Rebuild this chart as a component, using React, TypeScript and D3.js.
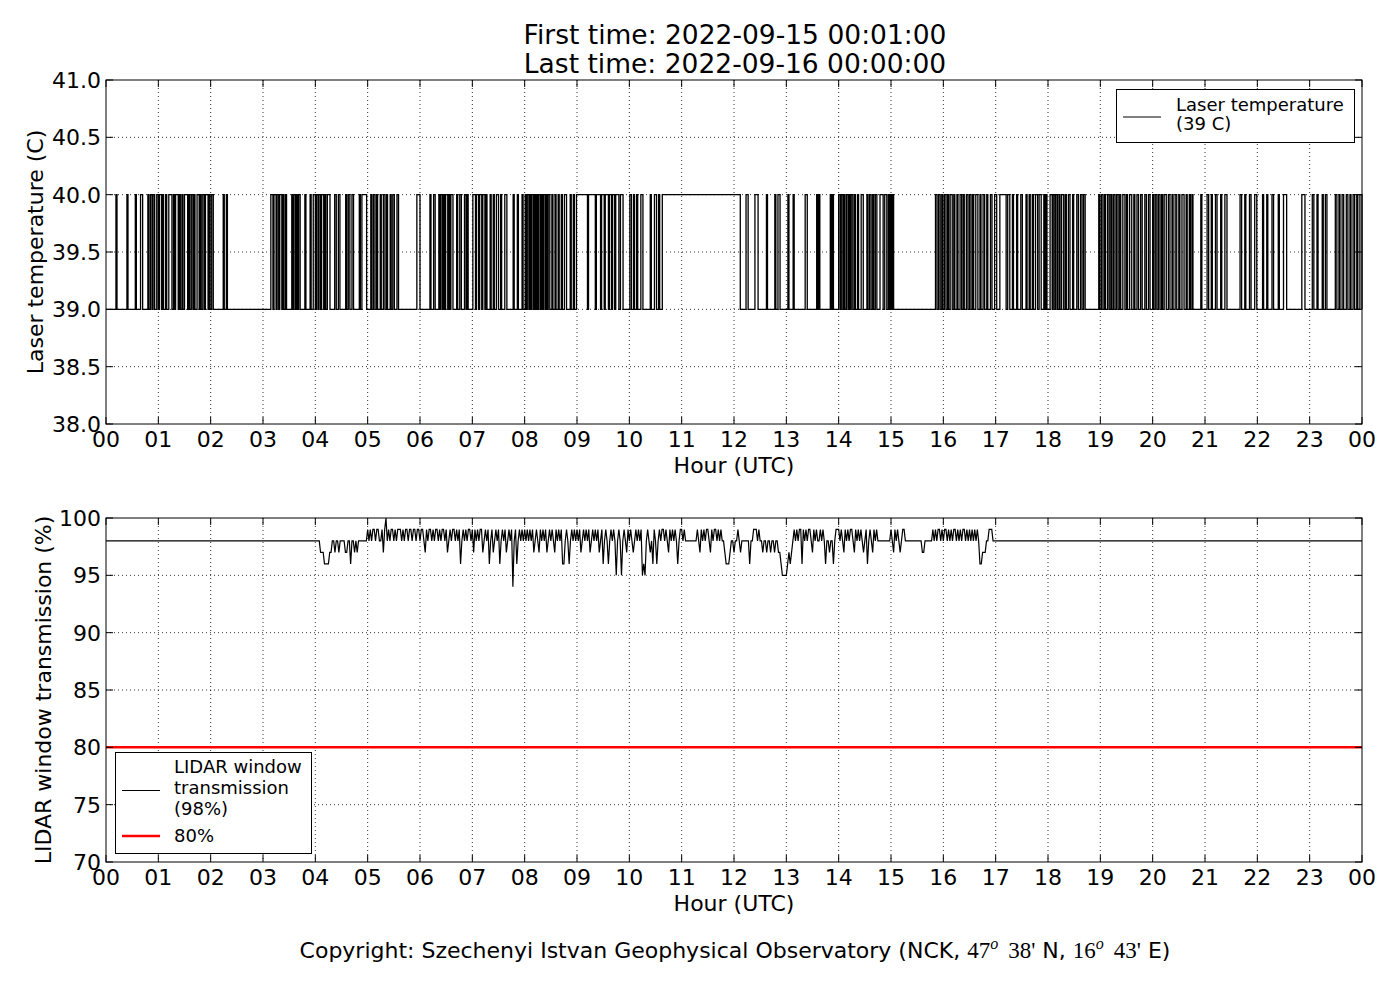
import React from "react";
import * as d3 from "d3";

// ---------- DATA ----------
const HOUR_TICKS = d3.range(0, 25);
const HOUR_LABELS = HOUR_TICKS.map((h) => String(h % 24).padStart(2, "0"));
const TEMP_TICKS = [38.0, 38.5, 39.0, 39.5, 40.0, 40.5, 41.0];
const TRANS_TICKS = [70, 75, 80, 85, 90, 95, 100];

const TEMP_LOW = 39;
const TEMP_HIGH = 40;
// intervals (hours UTC) where the laser temperature reads 40 C (otherwise 39 C)
const TEMP_HIGH_INTERVALS: [number, number][] = [
  [0.19, 0.21], [0.40, 0.42], [0.56, 0.58], [0.66, 0.70],
  [0.80, 0.82], [0.85, 0.88], [0.90, 0.93], [0.97, 1.00], [1.02, 1.06], [1.08, 1.10], [1.14, 1.16], [1.20, 1.26],
  [1.29, 1.31], [1.33, 1.38], [1.40, 1.42], [1.45, 1.47], [1.50, 1.56], [1.58, 1.60], [1.63, 1.66], [1.68, 1.70],
  [1.74, 1.78], [1.80, 1.82], [1.85, 1.88], [1.90, 1.95], [1.97, 1.99], [2.02, 2.05], [2.24, 2.26], [2.30, 2.32],
  [3.15, 3.19], [3.21, 3.25], [3.27, 3.30], [3.32, 3.36], [3.38, 3.40], [3.43, 3.45], [3.55, 3.57], [3.59, 3.62],
  [3.64, 3.66], [3.68, 3.71], [3.80, 3.82], [3.90, 3.92], [3.96, 4.00], [4.02, 4.05], [4.07, 4.10], [4.12, 4.16],
  [4.18, 4.20], [4.23, 4.28], [4.37, 4.40], [4.44, 4.47], [4.58, 4.60], [4.63, 4.66], [4.70, 4.73], [4.84, 4.86],
  [4.89, 4.98], [5.06, 5.08], [5.11, 5.14], [5.17, 5.19], [5.24, 5.26], [5.30, 5.33], [5.36, 5.38], [5.43, 5.45],
  [5.48, 5.51], [5.56, 5.59],
  [5.94, 6.00], [6.19, 6.21], [6.26, 6.29], [6.36, 6.38], [6.40, 6.43], [6.45, 6.47], [6.49, 6.53], [6.55, 6.57],
  [6.59, 6.63], [6.70, 6.72], [6.76, 6.79], [6.85, 6.88], [6.90, 6.92], [7.01, 7.06], [7.08, 7.12], [7.14, 7.18],
  [7.20, 7.24], [7.26, 7.28], [7.34, 7.36], [7.40, 7.42], [7.46, 7.50], [7.54, 7.56], [7.62, 7.66], [7.78, 7.80],
  [7.86, 7.88], [7.95, 7.97],
  [8.01, 8.03], [8.05, 8.08], [8.10, 8.12], [8.14, 8.17], [8.19, 8.21], [8.23, 8.25], [8.27, 8.30], [8.32, 8.34],
  [8.36, 8.39], [8.41, 8.43], [8.45, 8.48], [8.52, 8.54], [8.58, 8.60], [8.64, 8.66], [8.70, 8.72], [8.76, 8.80],
  [8.87, 8.89], [8.93, 8.95],
  [8.99, 9.20], [9.22, 9.35], [9.37, 9.45], [9.47, 9.52], [9.54, 9.60], [9.62, 9.66], [9.68, 9.72], [9.74, 9.80],
  [9.83, 9.88], [10.01, 10.04], [10.08, 10.10], [10.14, 10.16], [10.22, 10.26], [10.40, 10.42], [10.48, 10.52],
  [10.56, 10.58], [10.63, 12.12],
  [12.23, 12.27], [12.40, 12.46], [12.62, 12.64], [12.78, 12.80], [12.84, 12.88], [13.03, 13.05], [13.13, 13.15],
  [13.36, 13.40], [13.58, 13.60], [13.62, 13.64], [13.84, 13.86], [13.88, 13.90],
  [14.00, 14.03], [14.05, 14.08], [14.10, 14.12], [14.15, 14.18], [14.20, 14.22], [14.24, 14.27], [14.30, 14.32],
  [14.36, 14.38], [14.43, 14.47], [14.54, 14.56], [14.59, 14.62], [14.65, 14.67], [14.70, 14.73], [14.79, 14.85],
  [14.88, 14.92], [14.95, 14.97], [14.99, 15.01], [15.03, 15.05],
  [15.85, 15.88], [15.91, 15.94], [15.97, 15.99], [16.02, 16.05], [16.08, 16.10], [16.13, 16.17], [16.20, 16.22],
  [16.26, 16.28], [16.32, 16.35], [16.38, 16.40], [16.44, 16.47], [16.50, 16.53], [16.56, 16.58], [16.62, 16.66],
  [16.70, 16.72], [16.76, 16.79], [16.83, 16.85], [16.90, 16.93], [16.98, 17.02],
  [17.08, 17.20], [17.23, 17.27], [17.32, 17.34], [17.40, 17.42], [17.48, 17.51], [17.58, 17.60], [17.64, 17.66],
  [17.70, 17.72], [17.76, 17.80], [17.83, 17.87], [17.92, 17.94], [17.96, 17.98],
  [18.04, 18.08], [18.10, 18.13], [18.15, 18.18], [18.21, 18.23], [18.26, 18.30], [18.33, 18.35], [18.39, 18.42],
  [18.47, 18.49], [18.55, 18.58], [18.62, 18.65], [18.68, 18.71], [18.97, 18.99],
  [19.02, 19.05], [19.08, 19.10], [19.14, 19.17], [19.20, 19.22], [19.25, 19.28], [19.31, 19.34], [19.37, 19.39],
  [19.43, 19.47], [19.50, 19.52], [19.56, 19.60], [19.64, 19.66], [19.70, 19.73], [19.77, 19.80], [19.85, 19.88],
  [19.92, 19.95],
  [20.00, 20.02], [20.05, 20.08], [20.11, 20.14], [20.17, 20.19], [20.22, 20.26], [20.30, 20.33], [20.37, 20.39],
  [20.43, 20.46], [20.50, 20.52], [20.56, 20.60], [20.64, 20.66], [20.70, 20.72], [20.75, 20.77],
  [20.92, 20.94], [21.04, 21.07], [21.12, 21.14], [21.20, 21.23], [21.30, 21.32], [21.38, 21.42], [21.67, 21.70],
  [21.76, 21.78], [21.85, 21.88], [21.95, 21.99], [22.10, 22.12], [22.18, 22.20], [22.28, 22.31], [22.40, 22.42],
  [22.50, 22.56], [22.85, 22.91], [23.05, 23.08], [23.14, 23.16], [23.24, 23.26], [23.30, 23.33],
  [23.49, 23.52], [23.56, 23.58], [23.62, 23.65], [23.70, 23.73], [23.77, 23.79], [23.83, 23.86], [23.90, 23.92],
  [23.96, 24.0],
];

// LIDAR window transmission: constant 98 % outside 04:00–17:05, sampled every 1.5 minutes inside
const TRANS_BASE = 98;
const TRANS_START = 4.0;
const TRANS_STEP = 0.025;
const TRANS_VALUES: number[] = [
  // 04
  98, 98, 98, 98, 97, 97, 97, 96, 96, 96, 96, 97, 97, 98, 98, 97, 98, 98, 97, 98,
  98, 98, 98, 97, 97, 98, 98, 96, 98, 98, 97, 98, 97, 98, 98, 98, 98, 98, 98, 98,
  // 05
  99, 98, 99, 98, 99, 99, 98, 99, 99, 98, 98, 99, 97, 99, 100, 98, 99, 98, 99, 99,
  98, 99, 98, 99, 99, 99, 98, 99, 98, 99, 99, 98, 99, 99, 98, 99, 99, 98, 99, 99,
  // 06
  98, 99, 99, 98, 97, 99, 98, 99, 99, 98, 99, 98, 99, 99, 98, 99, 98, 99, 99, 98,
  99, 97, 98, 99, 98, 99, 99, 98, 99, 98, 99, 96, 98, 99, 98, 99, 98, 99, 99, 98,
  // 07
  99, 97, 99, 98, 99, 98, 99, 99, 97, 98, 99, 98, 99, 96, 98, 99, 97, 98, 99, 98,
  99, 96, 98, 99, 98, 99, 97, 98, 99, 98, 99, 94, 98, 99, 96, 98, 99, 98, 99, 98,
  // 08
  99, 98, 99, 98, 99, 98, 99, 97, 98, 99, 98, 97, 99, 98, 99, 98, 99, 97, 98, 99,
  98, 99, 98, 97, 99, 98, 99, 98, 99, 96, 96, 98, 99, 98, 96, 98, 99, 98, 99, 98,
  // 09
  99, 98, 99, 97, 98, 99, 98, 99, 98, 99, 97, 98, 99, 98, 99, 98, 99, 97, 98, 99,
  96, 98, 99, 98, 96, 98, 99, 98, 99, 98, 95, 98, 99, 98, 95, 98, 99, 98, 97, 99,
  // 10
  98, 99, 98, 97, 98, 99, 98, 99, 98, 99, 95, 96, 95, 98, 99, 98, 97, 98, 96, 99,
  98, 96, 98, 99, 98, 99, 99, 98, 99, 98, 97, 99, 98, 99, 98, 99, 98, 96, 98, 99,
  // 11
  99, 98, 99, 98, 98, 98, 98, 98, 98, 98, 98, 98, 99, 98, 97, 99, 98, 99, 98, 99,
  99, 98, 97, 99, 98, 99, 99, 98, 99, 98, 99, 98, 98, 97, 96, 96, 96, 97, 98, 98,
  // 12
  97, 98, 98, 99, 98, 97, 98, 98, 98, 98, 98, 98, 96, 98, 98, 99, 99, 99, 98, 99,
  98, 98, 97, 98, 98, 97, 98, 98, 97, 98, 98, 97, 98, 98, 97, 97, 96, 95, 95, 95,
  // 13
  95, 96, 97, 96, 97, 98, 99, 98, 99, 98, 99, 99, 96, 99, 98, 99, 98, 99, 99, 98,
  97, 99, 98, 99, 98, 98, 99, 98, 99, 98, 96, 98, 98, 97, 98, 98, 96, 98, 99, 99,
  // 14
  99, 98, 99, 98, 97, 99, 98, 99, 98, 99, 99, 98, 97, 99, 98, 99, 98, 99, 98, 97,
  98, 99, 96, 98, 99, 98, 97, 99, 98, 99, 98, 98, 98, 98, 98, 98, 98, 98, 98, 98,
  // 15
  99, 98, 97, 99, 98, 99, 98, 97, 98, 99, 99, 98, 98, 98, 98, 98, 98, 98, 98, 98,
  98, 98, 98, 98, 97, 97, 98, 98, 98, 98, 98, 98, 99, 98, 99, 98, 99, 99, 98, 99,
  // 16
  98, 99, 99, 98, 99, 98, 99, 98, 99, 99, 98, 99, 98, 99, 98, 99, 99, 98, 99, 98,
  99, 98, 99, 98, 99, 98, 99, 98, 96, 96, 97, 97, 97, 98, 98, 99, 99, 99, 98, 98,
  // 17
  98, 98,
];
const THRESHOLD = 80;

const TITLE_1 = "First time: 2022-09-15 00:01:00";
const TITLE_2 = "Last time: 2022-09-16 00:00:00";

// ---------- LAYOUT ----------
const W = 1400;
const H = 1000;
const PL = 106;
const PR = 1362;
const TOP1 = 80;
const BOT1 = 424;
const TOP2 = 518;
const BOT2 = 862;
const FONT = "'DejaVu Sans', sans-serif";
const SERIF = "'Liberation Serif', 'DejaVu Serif', serif";
const TICK_LEN = 7;

const x = d3.scaleLinear().domain([0, 24]).range([PL, PR]);
const yT = d3.scaleLinear().domain([38, 41]).range([BOT1, TOP1]);
const yL = d3.scaleLinear().domain([70, 100]).range([BOT2, TOP2]);

function tempPoints(): [number, number][] {
  const pts: [number, number][] = [[0, TEMP_LOW]];
  for (const [s, e] of TEMP_HIGH_INTERVALS) {
    pts.push([s, TEMP_LOW], [s, TEMP_HIGH], [e, TEMP_HIGH], [e, TEMP_LOW]);
  }
  pts.push([24, TEMP_LOW]);
  return pts;
}

function transPoints(): [number, number][] {
  const pts: [number, number][] = [[0, TRANS_BASE]];
  TRANS_VALUES.forEach((v, i) => pts.push([TRANS_START + i * TRANS_STEP, v]));
  pts.push([24, TRANS_BASE]);
  return pts;
}

function Panel(props: {
  top: number;
  bottom: number;
  y: d3.ScaleLinear<number, number>;
  yTicks: number[];
  fmt: (v: number) => string;
  ylabel: string;
  ylabelX: number;
  children?: React.ReactNode;
}) {
  const { top, bottom, y, yTicks, fmt, ylabel, ylabelX } = props;
  const midY = (top + bottom) / 2;
  return (
    <g>
      <g stroke="#000" strokeWidth={0.8} strokeDasharray="1,3">
        {HOUR_TICKS.slice(1, -1).map((h) => (
          <line key={"gx" + h} x1={x(h)} x2={x(h)} y1={top} y2={bottom} />
        ))}
        {yTicks.slice(1, -1).map((v) => (
          <line key={"gy" + v} x1={PL} x2={PR} y1={y(v)} y2={y(v)} />
        ))}
      </g>
      {props.children}
      <g stroke="#000" strokeWidth={1}>
        {HOUR_TICKS.map((h) => (
          <g key={"tx" + h}>
            <line x1={x(h)} x2={x(h)} y1={bottom} y2={bottom - TICK_LEN} />
            <line x1={x(h)} x2={x(h)} y1={top} y2={top + TICK_LEN} />
          </g>
        ))}
        {yTicks.map((v) => (
          <g key={"ty" + v}>
            <line x1={PL} x2={PL + TICK_LEN} y1={y(v)} y2={y(v)} />
            <line x1={PR} x2={PR - TICK_LEN} y1={y(v)} y2={y(v)} />
          </g>
        ))}
      </g>
      <rect x={PL} y={top} width={PR - PL} height={bottom - top} fill="none" stroke="#000" strokeWidth={1} />
      <g fontFamily={FONT} fontSize={22} fill="#000">
        {HOUR_TICKS.map((h, i) => (
          <text key={"lx" + h} x={x(h)} y={bottom + 23} textAnchor="middle">
            {HOUR_LABELS[i]}
          </text>
        ))}
        {yTicks.map((v) => (
          <text key={"ly" + v} x={PL - 5} y={y(v) + 8} textAnchor="end">
            {fmt(v)}
          </text>
        ))}
        <text x={(PL + PR) / 2} y={bottom + 49} textAnchor="middle">
          Hour (UTC)
        </text>
        <text
          transform={`translate(${ylabelX},${midY}) rotate(-90)`}
          textAnchor="middle"
          dominantBaseline="central"
        >
          {ylabel}
        </text>
      </g>
    </g>
  );
}

export default function App() {
  const lineT = d3
    .line<[number, number]>()
    .x((d) => x(d[0]))
    .y((d) => yT(d[1]));
  const lineL = d3
    .line<[number, number]>()
    .x((d) => x(d[0]))
    .y((d) => yL(d[1]));

  return (
    <svg
      width={W}
      height={H}
      viewBox={`0 0 ${W} ${H}`}
      style={{ position: "absolute", left: 0, top: 0, background: "#fff" }}
    >
      <rect x={0} y={0} width={W} height={H} fill="#fff" />
      <g fontFamily={FONT} fontSize={26.5} fill="#000" textAnchor="middle">
        <text x={735} y={44}>{TITLE_1}</text>
        <text x={735} y={73}>{TITLE_2}</text>
      </g>

      <Panel
        top={TOP1}
        bottom={BOT1}
        y={yT}
        yTicks={TEMP_TICKS}
        fmt={d3.format(".1f")}
        ylabel="Laser temperature (C)"
        ylabelX={35}
      >
        <path d={lineT(tempPoints()) || ""} fill="none" stroke="#000" strokeWidth={1.3} />
      </Panel>

      <Panel
        top={TOP2}
        bottom={BOT2}
        y={yL}
        yTicks={TRANS_TICKS}
        fmt={d3.format("d")}
        ylabel="LIDAR window transmission (%)"
        ylabelX={43}
      >
        <path d={lineL(transPoints()) || ""} fill="none" stroke="#000" strokeWidth={1.2} />
        <line x1={x(0)} x2={x(24)} y1={yL(THRESHOLD)} y2={yL(THRESHOLD)} stroke="#ff0000" strokeWidth={2.5} />
      </Panel>

      <g fontFamily={FONT} fontSize={18} fill="#000">
        <rect x={1116.5} y={89.5} width={238} height={53} fill="#fff" stroke="#000" strokeWidth={1} />
        <line x1={1123} x2={1161} y1={117} y2={117} stroke="#000" strokeWidth={1} />
        <text x={1176} y={111}>Laser temperature</text>
        <text x={1176} y={130}>(39 C)</text>
      </g>

      <g fontFamily={FONT} fontSize={18} fill="#000">
        <rect x={115.5} y={752.5} width={196} height={101} fill="#fff" stroke="#000" strokeWidth={1} />
        <line x1={122} x2={160} y1={790.5} y2={790.5} stroke="#000" strokeWidth={1} />
        <text x={174} y={773}>LIDAR window</text>
        <text x={174} y={794}>transmission</text>
        <text x={174} y={815}>(98%)</text>
        <line x1={122} x2={160} y1={836} y2={836} stroke="#ff0000" strokeWidth={2.5} />
        <text x={174} y={842}>80%</text>
      </g>

      <text x={735} y={958} textAnchor="middle" fontFamily={FONT} fontSize={22} fill="#000">
        Copyright: Szechenyi Istvan Geophysical Observatory (NCK,{" "}
        <tspan fontFamily={SERIF} fontSize={23}>47</tspan>
        <tspan fontFamily={SERIF} fontStyle="italic" fontSize={16} dy={-9}>o</tspan>
        <tspan fontFamily={SERIF} fontSize={23} dy={9} dx={10}>38'</tspan>
        <tspan> N, </tspan>
        <tspan fontFamily={SERIF} fontSize={23}>16</tspan>
        <tspan fontFamily={SERIF} fontStyle="italic" fontSize={16} dy={-9}>o</tspan>
        <tspan fontFamily={SERIF} fontSize={23} dy={9} dx={10}>43'</tspan>
        <tspan> E)</tspan>
      </text>
    </svg>
  );
}
